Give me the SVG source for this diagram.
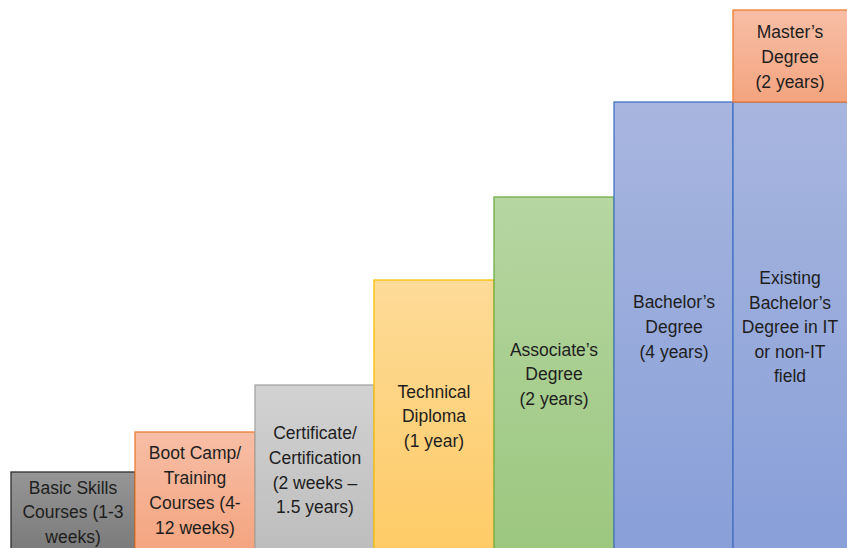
<svg xmlns="http://www.w3.org/2000/svg" width="847" height="548" viewBox="0 0 847 548">
<defs>
<linearGradient id="gGrey" x1="0" y1="0" x2="0" y2="1"><stop offset="0" stop-color="#969696"/><stop offset="1" stop-color="#7a7a7a"/></linearGradient>
<linearGradient id="gOrange" x1="0" y1="0" x2="0" y2="1"><stop offset="0" stop-color="#f7bea6"/><stop offset="1" stop-color="#f4a47f"/></linearGradient>
<linearGradient id="gLight" x1="0" y1="0" x2="0" y2="1"><stop offset="0" stop-color="#d2d2d2"/><stop offset="1" stop-color="#bdbdbd"/></linearGradient>
<linearGradient id="gGold" x1="0" y1="0" x2="0" y2="1"><stop offset="0" stop-color="#fddb98"/><stop offset="1" stop-color="#fecb66"/></linearGradient>
<linearGradient id="gGreen" x1="0" y1="0" x2="0" y2="1"><stop offset="0" stop-color="#b6d6a2"/><stop offset="1" stop-color="#9cc77f"/></linearGradient>
<linearGradient id="gBlue" x1="0" y1="0" x2="0" y2="1"><stop offset="0" stop-color="#a8b6df"/><stop offset="1" stop-color="#889fd8"/></linearGradient>
</defs>
<style>
text{font-family:"Liberation Sans",Arial,sans-serif;font-size:17.5px;fill:#1e1e1e;text-anchor:middle}
rect{stroke-width:1.3}
</style>
<rect width="847" height="548" fill="#ffffff"/>
<g id="basic">
<rect x="11" y="472" width="124" height="80" fill="url(#gGrey)" stroke="#2e2e2e"/>
<text x="73" y="494">Basic Skills</text>
<text x="73" y="518">Courses (1-3</text>
<text x="73" y="543">weeks)</text>
</g>
<g id="bootcamp">
<rect x="135" y="432" width="120" height="120" fill="url(#gOrange)" stroke="#ed7d31"/>
<text x="195" y="459">Boot Camp/</text>
<text x="195" y="484">Training</text>
<text x="195" y="509">Courses (4-</text>
<text x="195" y="534">12 weeks)</text>
</g>
<g id="certificate">
<rect x="255" y="385" width="119" height="167" fill="url(#gLight)" stroke="#a5a5a5"/>
<text x="315" y="439">Certificate/</text>
<text x="315" y="464">Certification</text>
<text x="315" y="489">(2 weeks –</text>
<text x="315" y="513">1.5 years)</text>
</g>
<g id="technical">
<rect x="374" y="280" width="120" height="272" fill="url(#gGold)" stroke="#ffc000"/>
<text x="434" y="398">Technical</text>
<text x="434" y="422">Diploma</text>
<text x="434" y="447">(1 year)</text>
</g>
<g id="associate">
<rect x="494" y="197" width="120" height="355" fill="url(#gGreen)" stroke="#70ad47"/>
<text x="554" y="356">Associate’s</text>
<text x="554" y="380">Degree</text>
<text x="554" y="405">(2 years)</text>
</g>
<g id="bachelor">
<rect x="614" y="102" width="119" height="450" fill="url(#gBlue)" stroke="#4472c4"/>
<text x="674" y="308">Bachelor’s</text>
<text x="674" y="333">Degree</text>
<text x="674" y="358">(4 years)</text>
</g>
<g id="existing">
<rect x="733" y="102" width="120" height="450" fill="url(#gBlue)" stroke="#4472c4"/>
<text x="790" y="284">Existing</text>
<text x="790" y="309">Bachelor’s</text>
<text x="790" y="333">Degree in IT</text>
<text x="790" y="358">or non-IT</text>
<text x="790" y="382">field</text>
</g>
<g id="master">
<rect x="733" y="10" width="120" height="92" fill="url(#gOrange)" stroke="#ed7d31"/>
<text x="790" y="38">Master’s</text>
<text x="790" y="63">Degree</text>
<text x="790" y="88">(2 years)</text>
</g>
<g id="connectors"/>
</svg>
